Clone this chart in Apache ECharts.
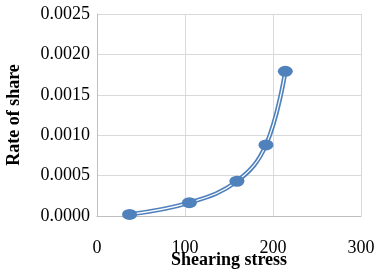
<!DOCTYPE html>
<html><head><meta charset="utf-8">
<script src="https://cdn.jsdelivr.net/npm/echarts@6/dist/echarts.min.js"></script>
<style>html,body{margin:0;padding:0;background:#fff}#c{width:384px;height:270px}</style>
</head><body><div id="c"></div>
<script>
const xValues = [37, 105, 159, 192, 214];
const yValues = [0.00002, 0.000165, 0.00043, 0.00088, 0.00179];
const xTitle = 'Shearing stress';
const yTitle = 'Rate of share';

const pts = xValues.map((x, i) => [x, yValues[i]]);
const font = 'Liberation Serif';
const blue = '#4f81bd';
const chart = echarts.init(document.getElementById('c'));
chart.setOption({
  animation: false,
  grid: {left: 97, right: 23, top: 14, bottom: 54, containLabel: false, outerBoundsMode: 'none'},
  xAxis: {
    type: 'value', min: 0, max: 300, interval: 100,
    name: xTitle, nameLocation: 'middle', nameGap: 35, nameMoveOverlap: false,
    nameTextStyle: {fontFamily: font, fontWeight: 'bold', fontSize: 18, color: '#000'},
    axisLine: {show: true, lineStyle: {color: '#bfbfbf'}},
    axisTick: {show: false},
    axisLabel: {fontFamily: font, fontSize: 18, color: '#000', margin: 23},
    splitLine: {show: true, lineStyle: {color: '#d9d9d9'}}
  },
  yAxis: {
    type: 'value', min: 0, max: 0.0025, interval: 0.0005,
    name: yTitle, nameLocation: 'middle', nameGap: 74, nameMoveOverlap: false,
    nameTextStyle: {fontFamily: font, fontWeight: 'bold', fontSize: 18, color: '#000'},
    axisLine: {show: true, lineStyle: {color: '#bfbfbf'}},
    axisTick: {show: false},
    axisLabel: {fontFamily: font, fontSize: 18, color: '#000', margin: 7,
      formatter: v => v.toFixed(4)},
    splitLine: {show: true, lineStyle: {color: '#d9d9d9'}}
  },
  series: [
    {type: 'line', data: pts, smooth: 0.4, symbol: 'none',
     lineStyle: {color: blue, width: 4.5}, z: 2},
    {type: 'line', data: pts, smooth: 0.4, symbol: 'none',
     lineStyle: {color: '#fff', width: 1.2}, z: 3},
    {type: 'scatter', data: pts, symbol: 'circle', symbolSize: [15, 11],
     itemStyle: {color: blue, opacity: 1}, z: 4}
  ]
});
</script></body></html>
